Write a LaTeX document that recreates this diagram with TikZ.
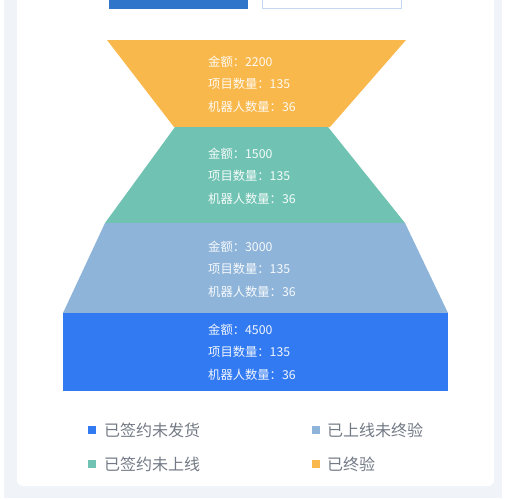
\documentclass[tikz,border=0pt]{standalone}
\usepackage{fontspec}
\setmainfont{Noto Sans CJK SC}
\usepackage{xcolor}
\usetikzlibrary{positioning}

\definecolor{pageBg}{HTML}{F0F4F9}
\definecolor{tabBlue}{HTML}{2F76CB}
\definecolor{tabLine}{HTML}{C5D8F0}
\definecolor{segDone}{HTML}{F9B84B}
\definecolor{segLive}{HTML}{70C3B3}
\definecolor{segOnline}{HTML}{8EB4D9}
\definecolor{segSigned}{HTML}{327AF2}
\definecolor{legText}{HTML}{737A86}

\begin{document}
\begin{tikzpicture}[
  x=1pt, y=-1pt,
  info/.style={anchor=west, align=left, inner sep=0pt, text=white, text opacity=0.93,
    font=\fontsize{12.3}{22.5}\selectfont},
  swatch/.style={minimum size=7.5pt, inner sep=0pt},
  legend/.style={anchor=west, inner sep=0pt, text=legText, font=\fontsize{16}{18}\selectfont}
]
\useasboundingbox (0,0) rectangle (511,499);
\fill[white] (0,0) rectangle (511,499);
\fill[pageBg] (4,0) rectangle (502,498);
\fill[white, rounded corners=6pt] (17,-10) rectangle (494,486);

% tabs
\fill[tabBlue] (109,0) rectangle (248,9);
\draw[tabLine, line width=1pt] (262.5,-1) rectangle (401.5,8.5);

% funnel
\fill[segDone] (107,40) -- (406,40) -- (330,127) -- (174,127) -- cycle;
\fill[segLive] (175,127) -- (328,127) -- (405,223) -- (105,223) -- cycle;
\fill[segOnline] (105,223) -- (405,223) -- (448,313) -- (63,313) -- cycle;
\fill[segSigned] (63,313) rectangle (448,391);

\node[info] (done) at (208,84) {金额：2200\\项目数量：135\\机器人数量：36};
\node[info] (live) at (208,176) {金额：1500\\项目数量：135\\机器人数量：36};
\node[info] (online) at (208,269) {金额：3000\\项目数量：135\\机器人数量：36};
\node[info] (signed) at (208,352) {金额：4500\\项目数量：135\\机器人数量：36};

% legend
\node[swatch, fill=segSigned] (keySigned) at (92,430) {};
\node[legend, right=8pt of keySigned] {已签约未发货};
\node[swatch, fill=segOnline] (keyOnline) at (316,430) {};
\node[legend, right=7pt of keyOnline] {已上线未终验};
\node[swatch, fill=segLive] (keyLive) at (92,464) {};
\node[legend, right=8pt of keyLive] {已签约未上线};
\node[swatch, fill=segDone] (keyDone) at (316,464) {};
\node[legend, right=7pt of keyDone] {已终验};
\end{tikzpicture}
\end{document}
